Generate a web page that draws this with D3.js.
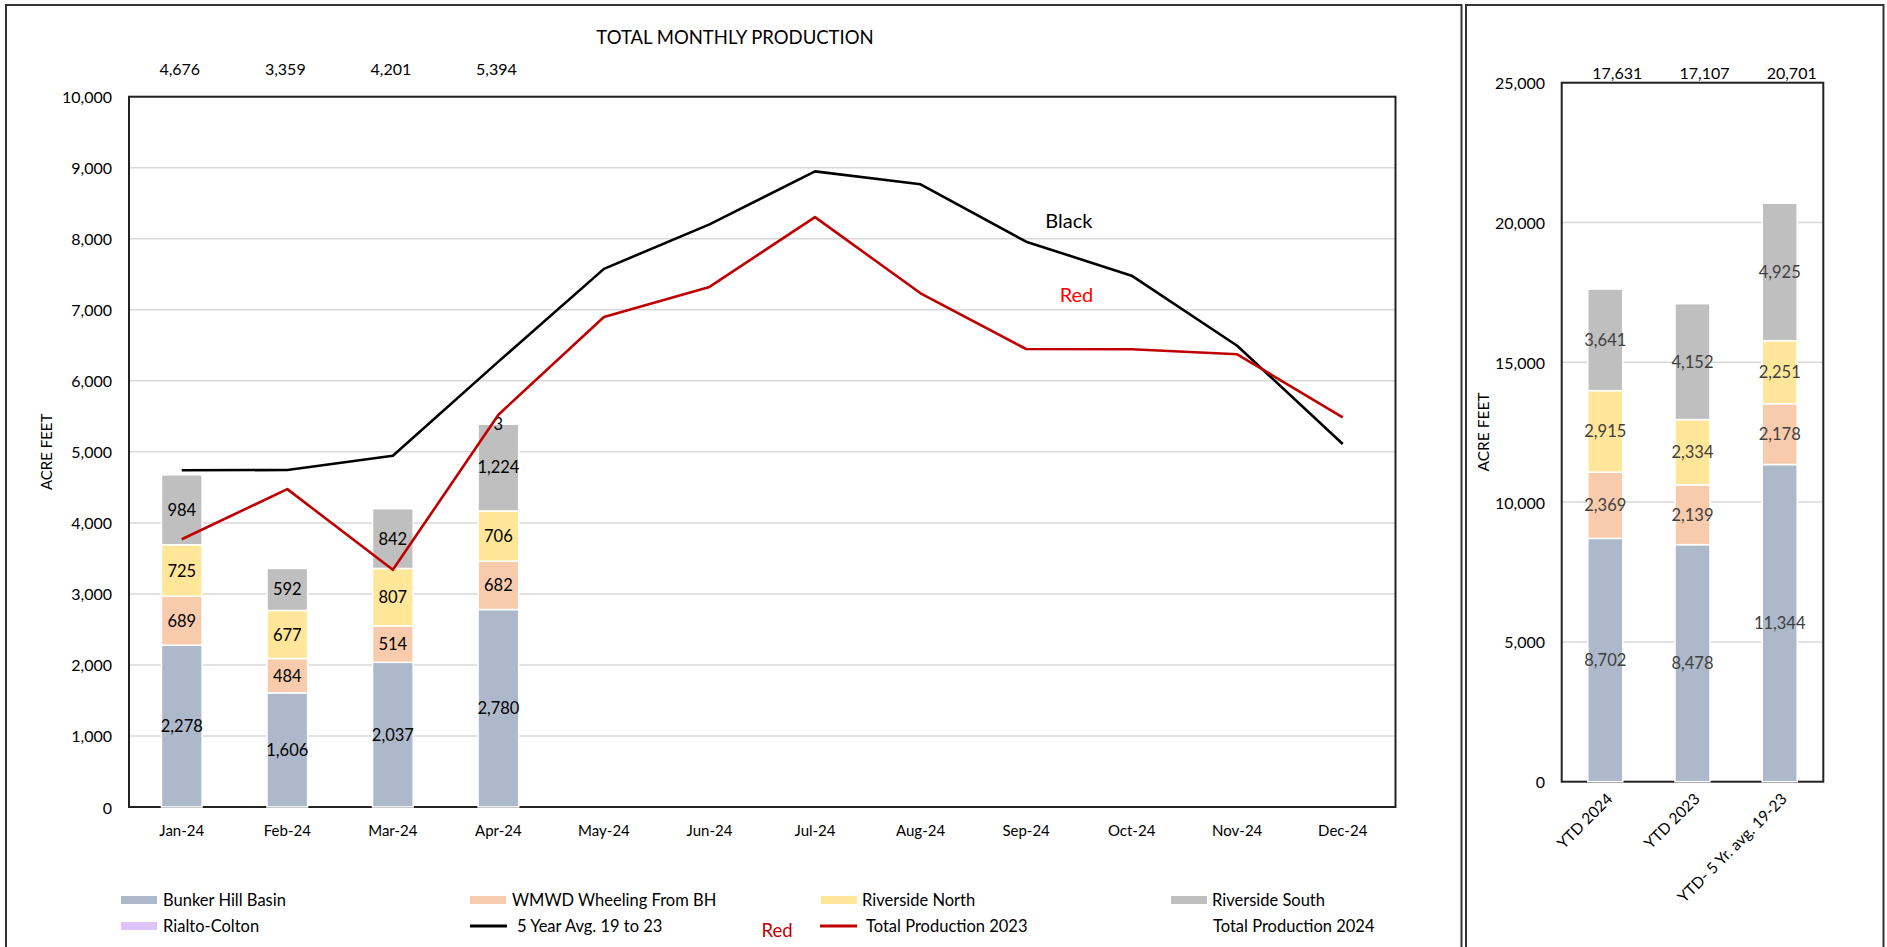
<!DOCTYPE html>
<html><head><meta charset="utf-8">
<script src="https://cdn.jsdelivr.net/npm/d3@7"></script>
<style>
body{margin:0;background:#fff;}
svg text{font-family:Lato,"Open Sans",sans-serif;}
</style>
</head><body>
<svg id="c" width="1887" height="947"></svg>
<script>
// ---------- DATA ----------
const months = ["Jan-24","Feb-24","Mar-24","Apr-24","May-24","Jun-24","Jul-24","Aug-24","Sep-24","Oct-24","Nov-24","Dec-24"];
const bunkerHill     = [2278,1606,2037,2780];
const wmwdWheeling   = [689,484,514,682];
const riversideNorth = [725,677,807,706];
const riversideSouth = [984,592,842,1224];
const rialtoColton   = [0,0,0,3];
const totals2024     = [4676,3359,4201,5394];
const fiveYearAvg    = [4740,4745,4946,6270,7576,8203,8949,8767,7959,7480,6494,5110];
const total2023      = [3770,4475,3339,5523,6898,7322,8305,7232,6448,6444,6373,5486];
const leftTicks      = [0,1000,2000,3000,4000,5000,6000,7000,8000,9000,10000];

const ytdCats        = ["YTD 2024","YTD 2023","YTD- 5 Yr. avg. 19-23"];
const ytdBunkerHill  = [8702,8478,11344];
const ytdWmwd        = [2369,2139,2178];
const ytdRivNorth    = [2915,2334,2251];
const ytdRivSouth    = [3641,4152,4925];
const ytdRialto      = [4,4,3];
const ytdTotals      = [17631,17107,20701];
const rightTicks     = [0,5000,10000,15000,20000,25000];

const seriesNames  = ["Bunker Hill Basin","WMWD Wheeling From BH","Riverside North","Riverside South","Rialto-Colton"];
const seriesKeys   = ["bh","wmwd","rn","rs","rc"];
const seriesColors = ["#adb9ca","#f8cbad","#ffe699","#bfbfbf","#dcc3f9"];

const fmt = d3.format(",");
const svg = d3.select("#c");

// ---------- PANEL FRAMES ----------
svg.append("rect").attr("x",6).attr("y",5).attr("width",1455.5).attr("height",960)
  .attr("fill","none").attr("stroke","#333").attr("stroke-width",2);
svg.append("rect").attr("x",1466).attr("y",5).attr("width",417.5).attr("height",960)
  .attr("fill","none").attr("stroke","#333").attr("stroke-width",2);

// ---------- LEFT CHART ----------
const L = {x0:129, x1:1395.5, yTop:96.7, yBot:807};
const xL = d3.scaleBand().domain(months).range([L.x0,L.x1]).paddingInner(0.615).paddingOuter(0.3075);
const yL = d3.scaleLinear().domain([0,10000]).range([L.yBot,L.yTop]);
const cxL = m => xL(m) + xL.bandwidth()/2;
const gL = svg.append("g");

gL.append("g").selectAll("line").data(leftTicks.filter(t=>t>0)).join("line")
  .attr("x1",L.x0).attr("x2",L.x1).attr("y1",d=>yL(d)).attr("y2",d=>yL(d))
  .attr("stroke","#d9d9d9").attr("stroke-width",1.5);

gL.append("rect").attr("x",L.x0).attr("y",L.yTop).attr("width",L.x1-L.x0).attr("height",L.yBot-L.yTop)
  .attr("fill","none").attr("stroke","#222").attr("stroke-width",2);

const leftTable = months.slice(0,bunkerHill.length).map((m,i)=>({
  month:m, bh:bunkerHill[i], wmwd:wmwdWheeling[i], rn:riversideNorth[i], rs:riversideSouth[i], rc:rialtoColton[i]
}));
const stackL = d3.stack().keys(seriesKeys)(leftTable);
stackL.forEach((layer,li)=>{
  const g = gL.append("g");
  g.selectAll("rect").data(layer).join("rect")
    .attr("x",d=>xL(d.data.month)).attr("width",xL.bandwidth())
    .attr("y",d=>yL(d[1])).attr("height",d=>Math.max(0,yL(d[0])-yL(d[1])))
    .attr("fill",seriesColors[li]).attr("stroke","#fff").attr("stroke-width",1.5);
  g.selectAll("text").data(layer.filter(d=>d[1]-d[0]>0)).join("text")
    .attr("x",d=>cxL(d.data.month)).attr("y",d=>yL((d[0]+d[1])/2))
    .attr("text-anchor","middle").attr("dominant-baseline","central")
    .attr("font-size",16.5).attr("fill","#000").text(d=>fmt(d[1]-d[0]));
});

// lines
const lineGen = d3.line().x((d,i)=>cxL(months[i])).y(d=>yL(d));
gL.append("path").datum(fiveYearAvg).attr("d",lineGen).attr("fill","none")
  .attr("stroke","#000").attr("stroke-width",2.6).attr("stroke-linejoin","round");
gL.append("path").datum(total2023).attr("d",lineGen).attr("fill","none")
  .attr("stroke","#c00000").attr("stroke-width",2.6).attr("stroke-linejoin","round");

// totals above
gL.append("g").selectAll("text").data(totals2024).join("text")
  .attr("x",(d,i)=>cxL(months[i])-2).attr("y",68)
  .attr("text-anchor","middle").attr("dominant-baseline","central")
  .attr("font-size",16).attr("fill","#000").text(d=>fmt(d));

// y tick labels
gL.append("g").selectAll("text").data(leftTicks).join("text")
  .attr("x",112).attr("y",d=>yL(d)).attr("text-anchor","end").attr("dominant-baseline","central")
  .attr("font-size",16).attr("fill","#000").text(d=>fmt(d));
// x tick labels
gL.append("g").selectAll("text").data(months).join("text")
  .attr("x",d=>cxL(d)).attr("y",830).attr("text-anchor","middle").attr("dominant-baseline","central")
  .attr("font-size",15).attr("fill","#000").text(d=>d);

gL.append("text").attr("transform",`translate(46,${(L.yTop+L.yBot)/2}) rotate(-90)`)
  .attr("text-anchor","middle").attr("dominant-baseline","central").attr("font-size",15).text("ACRE FEET");
gL.append("text").attr("x",735).attr("y",36.5).attr("text-anchor","middle").attr("dominant-baseline","central")
  .attr("font-size",18.5).text("TOTAL MONTHLY PRODUCTION");

// annotations
gL.append("text").attr("x",cxL("Sep-24")+xL.step()*0.405).attr("y",yL(8265)).attr("text-anchor","middle")
  .attr("dominant-baseline","central").attr("font-size",20).attr("fill","#000").text("Black");
gL.append("text").attr("x",cxL("Sep-24")+xL.step()*0.477).attr("y",yL(7225)).attr("text-anchor","middle")
  .attr("dominant-baseline","central").attr("font-size",20).attr("fill","#ff0000").text("Red");

// legend
const leg = svg.append("g");
const legRow1 = [[0,121,163],[1,470,512],[2,821,862],[3,1171,1212]];
legRow1.forEach(([si,sx,tx])=>{
  leg.append("rect").attr("x",sx).attr("y",896).attr("width",36).attr("height",8).attr("fill",seriesColors[si]);
  leg.append("text").attr("x",tx).attr("y",900).attr("dominant-baseline","central").attr("font-size",16.5).text(seriesNames[si]);
});
leg.append("rect").attr("x",121).attr("y",922).attr("width",36).attr("height",8).attr("fill",seriesColors[4]);
leg.append("text").attr("x",163).attr("y",926).attr("dominant-baseline","central").attr("font-size",16.5).text(seriesNames[4]);
leg.append("line").attr("x1",470).attr("x2",507).attr("y1",926).attr("y2",926).attr("stroke","#000").attr("stroke-width",3);
leg.append("text").attr("x",517).attr("y",926).attr("dominant-baseline","central").attr("font-size",16.5).text("5 Year Avg. 19 to 23");
leg.append("text").attr("x",777).attr("y",930).attr("text-anchor","middle").attr("dominant-baseline","central")
  .attr("font-size",18.5).attr("fill","#c00000").text("Red");
leg.append("line").attr("x1",820).attr("x2",857).attr("y1",926).attr("y2",926).attr("stroke","#c00000").attr("stroke-width",3);
leg.append("text").attr("x",866).attr("y",926).attr("dominant-baseline","central").attr("font-size",16.5).text("Total Production 2023");
leg.append("text").attr("x",1213).attr("y",926).attr("dominant-baseline","central").attr("font-size",16.5).text("Total Production 2024");

// ---------- RIGHT CHART ----------
const R = {x0:1561.7, x1:1823.3, yTop:82.7, yBot:781.7};
const xR = d3.scaleBand().domain(ytdCats).range([R.x0,R.x1]).paddingInner(0.599).paddingOuter(0.2995);
const yR = d3.scaleLinear().domain([0,25000]).range([R.yBot,R.yTop]);
const cxR = c => xR(c) + xR.bandwidth()/2;
const gR = svg.append("g");
gR.append("g").selectAll("line").data(rightTicks.filter(t=>t>0)).join("line")
  .attr("x1",R.x0).attr("x2",R.x1).attr("y1",d=>yR(d)).attr("y2",d=>yR(d))
  .attr("stroke","#d9d9d9").attr("stroke-width",1.5);
gR.append("rect").attr("x",R.x0).attr("y",R.yTop).attr("width",R.x1-R.x0).attr("height",R.yBot-R.yTop)
  .attr("fill","none").attr("stroke","#222").attr("stroke-width",2);

const rightTable = ytdCats.map((c,i)=>({
  cat:c, bh:ytdBunkerHill[i], wmwd:ytdWmwd[i], rn:ytdRivNorth[i], rs:ytdRivSouth[i], rc:ytdRialto[i]
}));
const stackR = d3.stack().keys(seriesKeys)(rightTable);
stackR.forEach((layer,li)=>{
  const g = gR.append("g");
  g.selectAll("rect").data(layer).join("rect")
    .attr("x",d=>xR(d.data.cat)).attr("width",xR.bandwidth())
    .attr("y",d=>yR(d[1])).attr("height",d=>Math.max(0,yR(d[0])-yR(d[1])))
    .attr("fill",seriesColors[li]).attr("stroke","#fff").attr("stroke-width",1.5);
  if (seriesKeys[li] !== "rc") {
    g.selectAll("text").data(layer).join("text")
      .attr("x",d=>cxR(d.data.cat)).attr("y",d=>yR((d[0]+d[1])/2))
      .attr("text-anchor","middle").attr("dominant-baseline","central")
      .attr("font-size",16.5).attr("fill","#404040").text(d=>fmt(d[1]-d[0]));
  }
});
gR.append("g").selectAll("text").data(ytdTotals).join("text")
  .attr("x",(d,i)=>cxR(ytdCats[i])+12).attr("y",72)
  .attr("text-anchor","middle").attr("dominant-baseline","central")
  .attr("font-size",16).attr("fill","#000").text(d=>fmt(d));
gR.append("g").selectAll("text").data(rightTicks).join("text")
  .attr("x",1545).attr("y",d=>yR(d)).attr("text-anchor","end").attr("dominant-baseline","central")
  .attr("font-size",16).attr("fill","#000").text(d=>fmt(d));
gR.append("g").selectAll("text").data(ytdCats).join("text")
  .attr("transform",d=>`translate(${cxR(d)+4},${R.yBot+14}) rotate(-45)`)
  .attr("text-anchor","end").attr("dominant-baseline","central")
  .attr("font-size",15.5).attr("fill","#000").text(d=>d);
gR.append("text").attr("transform",`translate(1483,432) rotate(-90)`)
  .attr("text-anchor","middle").attr("dominant-baseline","central").attr("font-size",15.5).text("ACRE FEET");
</script>
</body></html>
